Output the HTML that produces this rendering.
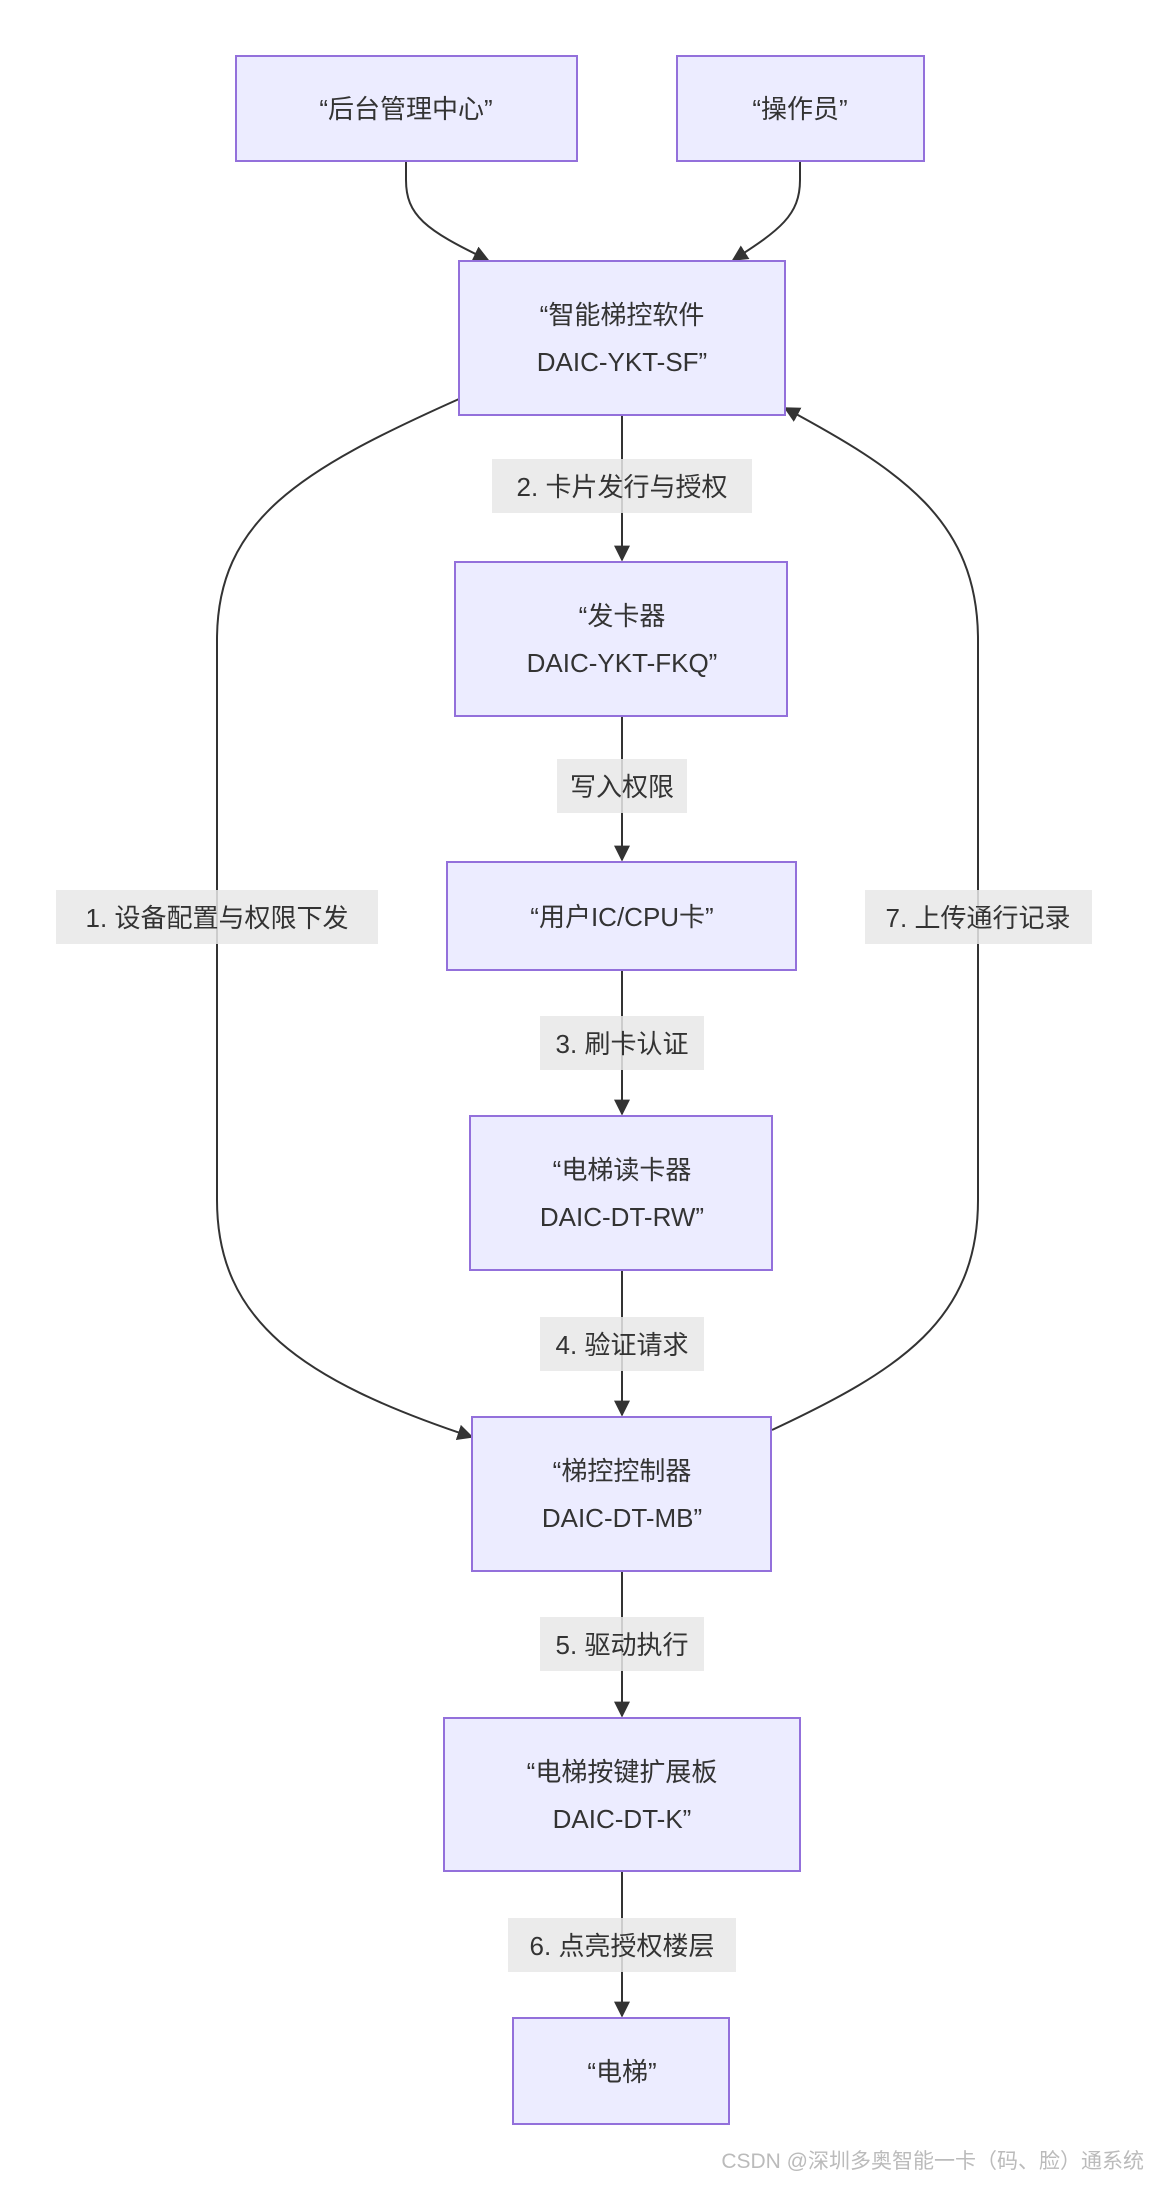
<!DOCTYPE html>
<html><head><meta charset="utf-8"><style>
html,body{margin:0;padding:0;background:#fff;}
svg{display:block;}
text{font-family:"Liberation Sans","Noto Sans CJK SC",sans-serif;fill:#333;}
.n{fill:#ECECFF;stroke:#9370DB;stroke-width:2;}
.e{fill:none;stroke:#333;stroke-width:2;}
.lb{fill:#e8e8e8;opacity:0.85;}
.t{font-size:26px;text-anchor:middle;}
</style></head><body>
<svg width="1160" height="2204" viewBox="0 0 1160 2204" xmlns="http://www.w3.org/2000/svg">
<defs><marker id="a" viewBox="0 0 10 10" refX="9" refY="5" markerWidth="8" markerHeight="8" orient="auto-start-reverse"><path d="M0 0 L10 5 L0 10 z" fill="#333"/></marker></defs>
<!-- edges -->
<path class="e" d="M406 161 L406 180 C406 215 425 230 488 260" marker-end="url(#a)"/>
<path class="e" d="M800 161 L800 180 C800 215 780 230 733 260" marker-end="url(#a)"/>
<path class="e" d="M459 399 C300 470 217 520 217 640 L217 1200 C217 1320 300 1380 472 1437" marker-end="url(#a)"/>
<path class="e" d="M772 1430 C900 1370 978 1320 978 1200 L978 640 C978 520 900 470 785 408" marker-end="url(#a)"/>
<path class="e" d="M622 415 L622 560" marker-end="url(#a)"/>
<path class="e" d="M622 716 L622 860" marker-end="url(#a)"/>
<path class="e" d="M622 970 L622 1114" marker-end="url(#a)"/>
<path class="e" d="M622 1270 L622 1415" marker-end="url(#a)"/>
<path class="e" d="M622 1571 L622 1716" marker-end="url(#a)"/>
<path class="e" d="M622 1871 L622 2016" marker-end="url(#a)"/>
<!-- labels -->
<rect class="lb" x="492" y="459" width="260" height="54"/><text class="t" x="622" y="496">2. 卡片发行与授权</text>
<rect class="lb" x="557" y="759" width="130" height="54"/><text class="t" x="622" y="796">写入权限</text>
<rect class="lb" x="540" y="1016" width="164" height="54"/><text class="t" x="622" y="1053">3. 刷卡认证</text>
<rect class="lb" x="540" y="1317" width="164" height="54"/><text class="t" x="622" y="1354">4. 验证请求</text>
<rect class="lb" x="540" y="1617" width="164" height="54"/><text class="t" x="622" y="1654">5. 驱动执行</text>
<rect class="lb" x="508" y="1918" width="228" height="54"/><text class="t" x="622" y="1955">6. 点亮授权楼层</text>
<rect class="lb" x="56" y="890" width="322" height="54"/><text class="t" x="217" y="927">1. 设备配置与权限下发</text>
<rect class="lb" x="865" y="890" width="227" height="54"/><text class="t" x="978" y="927">7. 上传通行记录</text>
<!-- nodes -->
<rect class="n" x="236" y="56" width="341" height="105"/><text class="t" x="406" y="118">“后台管理中心”</text>
<rect class="n" x="677" y="56" width="247" height="105"/><text class="t" x="800" y="118">“操作员”</text>
<rect class="n" x="459" y="261" width="326" height="154"/><text class="t" x="622" y="324">“智能梯控软件</text><text class="t" x="622" y="371">DAIC-YKT-SF”</text>
<rect class="n" x="455" y="562" width="332" height="154"/><text class="t" x="622" y="625">“发卡器</text><text class="t" x="622" y="672">DAIC-YKT-FKQ”</text>
<rect class="n" x="447" y="862" width="349" height="108"/><text class="t" x="622" y="926">“用户IC/CPU卡”</text>
<rect class="n" x="470" y="1116" width="302" height="154"/><text class="t" x="622" y="1179">“电梯读卡器</text><text class="t" x="622" y="1226">DAIC-DT-RW”</text>
<rect class="n" x="472" y="1417" width="299" height="154"/><text class="t" x="622" y="1480">“梯控控制器</text><text class="t" x="622" y="1527">DAIC-DT-MB”</text>
<rect class="n" x="444" y="1718" width="356" height="153"/><text class="t" x="622" y="1781">“电梯按键扩展板</text><text class="t" x="622" y="1828">DAIC-DT-K”</text>
<rect class="n" x="513" y="2018" width="216" height="106"/><text class="t" x="622" y="2081">“电梯”</text>
<text x="1144" y="2168" style="font-size:21px;text-anchor:end;fill:#bbb;">CSDN @深圳多奥智能一卡（码、脸）通系统</text>
</svg>
</body></html>
